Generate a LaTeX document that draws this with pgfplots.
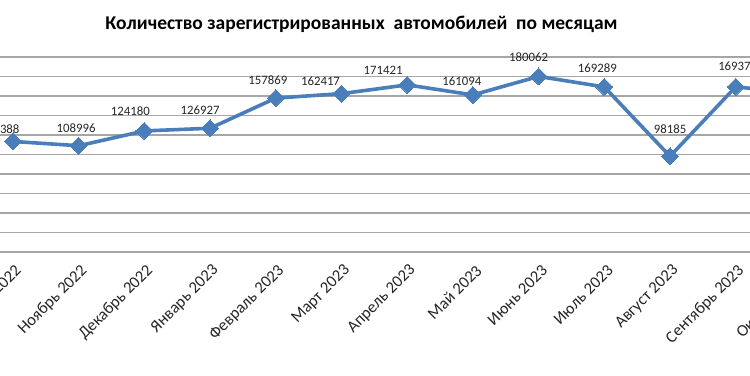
\documentclass[border=0pt]{standalone}
\usepackage{pgfplots}
\pgfplotsset{compat=1.18}
\usepackage{pgfplotstable}
\usepackage{fontspec}
\setmainfont{Carlito}
\definecolor{lineblue}{HTML}{4A7EBB}
\definecolor{gridgray}{HTML}{A6A6A6}
\definecolor{txt}{HTML}{262626}
\pgfplotstableread{
x y dx dy
0 113388 -13 12
1 108996 -2.5 18
2 124180 -14 20
3 126927 -10 18
4 157869 -8 18
5 162417 -21 12
6 171421 -24 15
7 161094 -11 14
8 180062 -10 19
9 169289 -7 19
10 98185 0 27
11 169373 2 21
12 162500 0 20
}\datatable
\begin{document}
\begin{tikzpicture}[x=1bp,y=1bp]
\useasboundingbox (0,0) rectangle (750,375);
\clip (0,0) rectangle (750,375);
\begin{axis}[
  at={(-19.85bp,123bp)}, anchor=south west,
  scale only axis, width=854.1bp, height=195bp,
  xmin=-0.5, xmax=12.5, ymin=0, ymax=200000,
  axis line style={draw=none},
  major tick length=0pt,
  ytick={0,20000,...,200000}, yticklabels={},
  ymajorgrids, grid style={gridgray, line width=1.2bp},
  xtick={0,...,12},
  xticklabels={Октябрь 2022,Ноябрь 2022,Декабрь 2022,Январь 2023,Февраль 2023,Март 2023,Апрель 2023,Май 2023,Июнь 2023,Июль 2023,Август 2023,Сентябрь 2023,Октябрь 2023},
  xticklabel style={xshift=6bp, yshift=-16bp, rotate=45, anchor=east, font=\fontsize{16.6bp}{19bp}\selectfont, text=txt, inner sep=0pt},
  clip=false,
]
\addplot[color=lineblue, line width=3.6bp, line join=round, mark=square*, mark size=6bp, mark options={rotate=45, line width=0pt, fill=lineblue}] table[x=x,y=y] {\datatable};
\addplot[draw=none, mark=none, nodes near coords={\pgfplotspointmeta}, point meta=explicit symbolic,
  visualization depends on={\thisrow{dx} \as \dx},
  visualization depends on={\thisrow{dy} \as \dy},
  every node near coord/.append style={anchor=center, xshift=\dx bp, yshift=\dy bp, font=\fontsize{12.8bp}{15bp}\selectfont, text=txt, inner sep=0pt}]
  table[x=x,y=y,meta=y] {\datatable};
\end{axis}
\node[font=\fontsize{19.5bp}{22bp}\selectfont\bfseries, text=black, anchor=center] at (361.5,351) {Количество зарегистрированных\ \ автомобилей\ \ по месяцам};
\end{tikzpicture}
\end{document}
